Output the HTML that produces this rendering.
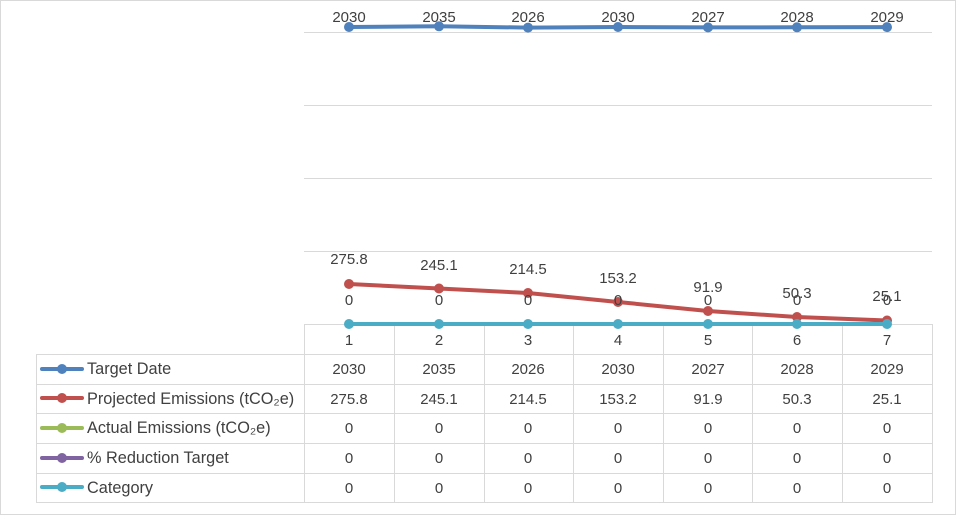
<!DOCTYPE html>
<html><head><meta charset="utf-8"><style>
html,body{margin:0;padding:0;background:#fff}
svg{display:block}
text{font-family:"Liberation Sans",sans-serif;font-size:15px;fill:#404040}
.lg{font-size:16.3px}
</style></head><body>
<svg width="956" height="515" viewBox="0 0 956 515">
<rect x="0.5" y="0.5" width="955" height="514" fill="#fff" stroke="#d9d9d9"/>
<g stroke="#d9d9d9" stroke-width="1">
<line x1="304" y1="32.5" x2="932" y2="32.5"/>
<line x1="304" y1="105.5" x2="932" y2="105.5"/>
<line x1="304" y1="178.5" x2="932" y2="178.5"/>
<line x1="304" y1="251.5" x2="932" y2="251.5"/>
<line x1="304" y1="324.5" x2="932" y2="324.5"/>
<line x1="36" y1="354.5" x2="932" y2="354.5"/>
<line x1="36" y1="384.5" x2="932" y2="384.5"/>
<line x1="36" y1="413.5" x2="932" y2="413.5"/>
<line x1="36" y1="443.5" x2="932" y2="443.5"/>
<line x1="36" y1="473.5" x2="932" y2="473.5"/>
<line x1="36" y1="502.5" x2="932" y2="502.5"/>
<line x1="36.5" y1="354" x2="36.5" y2="503"/>
<line x1="304.5" y1="324" x2="304.5" y2="503"/>
<line x1="394.5" y1="324" x2="394.5" y2="503"/>
<line x1="484.5" y1="324" x2="484.5" y2="503"/>
<line x1="573.5" y1="324" x2="573.5" y2="503"/>
<line x1="663.5" y1="324" x2="663.5" y2="503"/>
<line x1="752.5" y1="324" x2="752.5" y2="503"/>
<line x1="842.5" y1="324" x2="842.5" y2="503"/>
<line x1="932.5" y1="324" x2="932.5" y2="503"/>
</g>
<polyline fill="none" stroke="#4f81bd" stroke-width="4" points="349,27 439,26.3 528,27.6 618,27 708,27.4 797,27.3 887,27.1"/>
<g fill="#4f81bd"><circle cx="349" cy="27" r="5"/><circle cx="439" cy="26.3" r="5"/><circle cx="528" cy="27.6" r="5"/><circle cx="618" cy="27" r="5"/><circle cx="708" cy="27.4" r="5"/><circle cx="797" cy="27.3" r="5"/><circle cx="887" cy="27.1" r="5"/></g>
<polyline fill="none" stroke="#c0504d" stroke-width="4" points="349,284 439,288.5 528,293 618,302 708,311 797,317 887,320.5"/>
<g fill="#c0504d"><circle cx="349" cy="284" r="5"/><circle cx="439" cy="288.5" r="5"/><circle cx="528" cy="293" r="5"/><circle cx="618" cy="302" r="5"/><circle cx="708" cy="311" r="5"/><circle cx="797" cy="317" r="5"/><circle cx="887" cy="320.5" r="5"/></g>
<polyline fill="none" stroke="#4bacc6" stroke-width="4" points="349,324 887,324"/>
<g fill="#4bacc6"><circle cx="349" cy="324" r="5"/><circle cx="439" cy="324" r="5"/><circle cx="528" cy="324" r="5"/><circle cx="618" cy="324" r="5"/><circle cx="708" cy="324" r="5"/><circle cx="797" cy="324" r="5"/><circle cx="887" cy="324" r="5"/></g>
<g text-anchor="middle">
<text x="349" y="22">2030</text><text x="439" y="22">2035</text><text x="528" y="22">2026</text><text x="618" y="22">2030</text><text x="708" y="22">2027</text><text x="797" y="22">2028</text><text x="887" y="22">2029</text>
<text x="349" y="264">275.8</text><text x="439" y="270">245.1</text><text x="528" y="274">214.5</text><text x="618" y="283">153.2</text><text x="708" y="292">91.9</text><text x="797" y="298">50.3</text><text x="887" y="301">25.1</text>
<text x="349" y="305">0</text><text x="439" y="305">0</text><text x="528" y="305">0</text><text x="618" y="305">0</text><text x="708" y="305">0</text><text x="797" y="305">0</text><text x="887" y="305">0</text>
<text x="349" y="345">1</text><text x="439" y="345">2</text><text x="528" y="345">3</text><text x="618" y="345">4</text><text x="708" y="345">5</text><text x="797" y="345">6</text><text x="887" y="345">7</text>
<text x="349" y="374">2030</text><text x="439" y="374">2035</text><text x="528" y="374">2026</text><text x="618" y="374">2030</text><text x="708" y="374">2027</text><text x="797" y="374">2028</text><text x="887" y="374">2029</text>
<text x="349" y="404">275.8</text><text x="439" y="404">245.1</text><text x="528" y="404">214.5</text><text x="618" y="404">153.2</text><text x="708" y="404">91.9</text><text x="797" y="404">50.3</text><text x="887" y="404">25.1</text>
<text x="349" y="433">0</text><text x="439" y="433">0</text><text x="528" y="433">0</text><text x="618" y="433">0</text><text x="708" y="433">0</text><text x="797" y="433">0</text><text x="887" y="433">0</text>
<text x="349" y="463">0</text><text x="439" y="463">0</text><text x="528" y="463">0</text><text x="618" y="463">0</text><text x="708" y="463">0</text><text x="797" y="463">0</text><text x="887" y="463">0</text>
<text x="349" y="493">0</text><text x="439" y="493">0</text><text x="528" y="493">0</text><text x="618" y="493">0</text><text x="708" y="493">0</text><text x="797" y="493">0</text><text x="887" y="493">0</text>
</g>
<g stroke-width="4" stroke-linecap="round">
<line x1="42" y1="369" x2="82" y2="369" stroke="#4f81bd"/><circle cx="62" cy="369" r="5" fill="#4f81bd" stroke="none"/>
<line x1="42" y1="398" x2="82" y2="398" stroke="#c0504d"/><circle cx="62" cy="398" r="5" fill="#c0504d" stroke="none"/>
<line x1="42" y1="428" x2="82" y2="428" stroke="#9bbb59"/><circle cx="62" cy="428" r="5" fill="#9bbb59" stroke="none"/>
<line x1="42" y1="458" x2="82" y2="458" stroke="#8064a2"/><circle cx="62" cy="458" r="5" fill="#8064a2" stroke="none"/>
<line x1="42" y1="487" x2="82" y2="487" stroke="#4bacc6"/><circle cx="62" cy="487" r="5" fill="#4bacc6" stroke="none"/>
</g>
<text class="lg" x="87" y="374">Target Date</text>
<text class="lg" x="87" y="404">Projected Emissions (tCO₂e)</text>
<text class="lg" x="87" y="433">Actual Emissions (tCO₂e)</text>
<text class="lg" x="87" y="463">% Reduction Target</text>
<text class="lg" x="87" y="493">Category</text>
</svg>
</body></html>
